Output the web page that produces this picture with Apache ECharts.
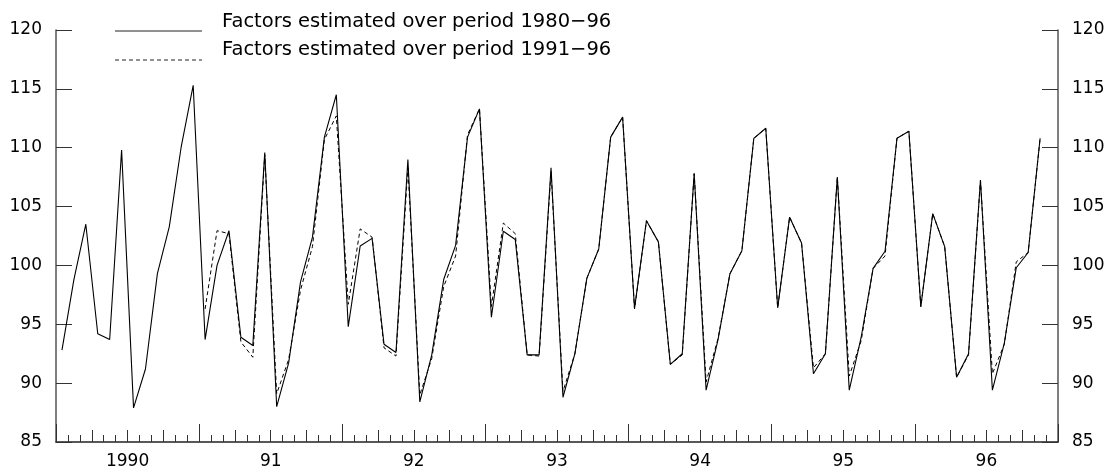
<!DOCTYPE html>
<html>
<head>
<meta charset="utf-8">
<script src="https://cdn.jsdelivr.net/npm/echarts@6/dist/echarts.min.js"></script>
<style>
  html, body { margin: 0; padding: 0; background: #fff; }
  #chart { width: 1115px; height: 474px; }
</style>
</head>
<body>
<div id="chart"></div>
<script>
// Monthly index, January 1990 to November 1996 (one value per month).
const yearLabels = ['1990', '91', '92', '93', '94', '95', '96'];
const seriesNames = [
  'Factors estimated over period 1980\u221296',
  'Factors estimated over period 1991\u221296'
];

// Factors estimated over 1980-96
const factors8096 = [
  92.8, 98.8, 103.5, 94.2, 93.7, 109.8, 87.9, 91.2, 99.3, 103.3, 110.1, 115.3,
  93.7, 100.0, 102.95, 93.9, 93.2, 109.6, 88.0, 91.7, 98.6, 102.4, 110.9, 114.5,
  94.8, 101.65, 102.3, 93.3, 92.6, 109.0, 88.4, 92.4, 98.8, 101.7, 110.9, 113.3,
  95.6, 102.9, 102.2, 92.4, 92.4, 108.3, 88.8, 92.5, 98.9, 101.4, 110.9, 112.6,
  96.35, 103.8, 102.0, 91.6, 92.5, 107.8, 89.4, 93.7, 99.3, 101.25, 110.8, 111.65,
  96.4, 104.1, 101.9, 90.8, 92.5, 107.5, 89.4, 93.9, 99.75, 101.2, 110.8, 111.4,
  96.5, 104.4, 101.6, 90.5, 92.5, 107.25, 89.4, 93.4, 99.8, 101.1, 110.8
];

// Factors estimated over 1991-96 (no values before January 1991)
const factors9196 = [
  null, null, null, null, null, null, null, null, null, null, null, null,
  96.3, 102.95, 102.7, 93.5, 92.2, 109.4, 89.1, 92.0, 97.9, 101.6, 110.7, 112.7,
  96.7, 103.1, 102.4, 93.0, 92.3, 108.3, 89.0, 92.1, 98.2, 100.8, 111.1, 113.3,
  96.5, 103.6, 102.7, 92.4, 92.3, 108.0, 89.3, 92.5, 98.9, 101.4, 110.9, 112.6,
  96.3, 103.8, 102.0, 91.6, 92.4, 107.8, 90.1, 93.8, 99.3, 101.25, 110.8, 111.65,
  96.4, 104.1, 101.9, 91.3, 92.5, 107.5, 90.6, 93.6, 99.75, 100.8, 110.8, 111.4,
  96.5, 104.4, 101.6, 90.5, 92.4, 107.2, 90.8, 93.3, 100.3, 101.1, 110.8
];

const yTicks = { min: 85, max: 120, step: 5 };
const monthsShown = 84; // Jan 1990 .. Dec 1996

// each value sits in the middle of its month on a month-count axis
const toPoints = arr => arr.map((v, i) => [i + 0.5, v]);

const font = 'DejaVu Sans';
const tickColor = '#333';
const plotRect = { left: 56, right: 57, top: 30, bottom: 32, containLabel: false };

// month ticks, quarter ticks and year ticks each get their own (identical) grid
function monthAxis(gridIndex, interval, tickLen, withLine, withLabels) {
  return {
    type: 'value',
    gridIndex: gridIndex,
    position: 'bottom',
    min: 0,
    max: monthsShown,
    interval: interval,
    axisLine: { show: withLine, onZero: false, lineStyle: { color: '#222', width: 1.5 } },
    axisTick: { show: true, inside: true, length: tickLen, lineStyle: { color: tickColor, width: 1 } },
    axisLabel: withLabels ? {
      show: true,
      margin: 11,
      fontFamily: font,
      fontSize: 17,
      color: '#000',
      formatter: v => (v % 12 === 6 ? yearLabels[(v - 6) / 12] : '')
    } : { show: false },
    splitLine: { show: false }
  };
}

function valueAxis(gridIndex, pos, visible) {
  return {
    type: 'value',
    gridIndex: gridIndex,
    position: pos,
    show: visible,
    min: yTicks.min,
    max: yTicks.max,
    interval: yTicks.step,
    axisLine: { show: true, onZero: false, lineStyle: { color: '#555', width: 1.5 } },
    axisTick: { show: true, inside: true, length: 16, lineStyle: { color: tickColor, width: 1 } },
    axisLabel: { margin: 14, fontFamily: font, fontSize: 17, color: '#000' },
    splitLine: { show: false }
  };
}

const chart = echarts.init(document.getElementById('chart'), null, { renderer: 'canvas' });

chart.setOption({
  animation: false,
  backgroundColor: '#fff',
  grid: [Object.assign({}, plotRect), Object.assign({}, plotRect), Object.assign({}, plotRect)],
  xAxis: [
    monthAxis(0, 1, 7, true, true),
    monthAxis(1, 3, 12, false, false),
    monthAxis(2, 12, 18, false, false)
  ],
  yAxis: [
    valueAxis(0, 'left', true),
    valueAxis(0, 'right', true),
    valueAxis(1, 'left', false),
    valueAxis(2, 'left', false)
  ],
  series: [
    {
      name: seriesNames[1],
      type: 'line',
      data: toPoints(factors9196),
      xAxisIndex: 0,
      yAxisIndex: 0,
      symbol: 'none',
      connectNulls: false,
      lineStyle: { color: '#000', width: 1, type: [4, 3] },
      z: 2
    },
    {
      name: seriesNames[0],
      type: 'line',
      data: toPoints(factors8096),
      xAxisIndex: 0,
      yAxisIndex: 0,
      symbol: 'none',
      lineStyle: { color: '#000', width: 1.1 },
      z: 3
    }
  ],
  graphic: [
    {
      type: 'line',
      shape: { x1: 115, y1: 31, x2: 202, y2: 31 },
      style: { stroke: '#222', lineWidth: 1 }
    },
    {
      type: 'text',
      left: 222,
      top: 12,
      style: { text: seriesNames[0], fontFamily: font, fontSize: 19.5, fill: '#000' }
    },
    {
      type: 'line',
      shape: { x1: 115, y1: 60, x2: 202, y2: 60 },
      style: { stroke: '#222', lineWidth: 1, lineDash: [4, 3] }
    },
    {
      type: 'text',
      left: 222,
      top: 40,
      style: { text: seriesNames[1], fontFamily: font, fontSize: 19.5, fill: '#000' }
    }
  ]
});
</script>
</body>
</html>
